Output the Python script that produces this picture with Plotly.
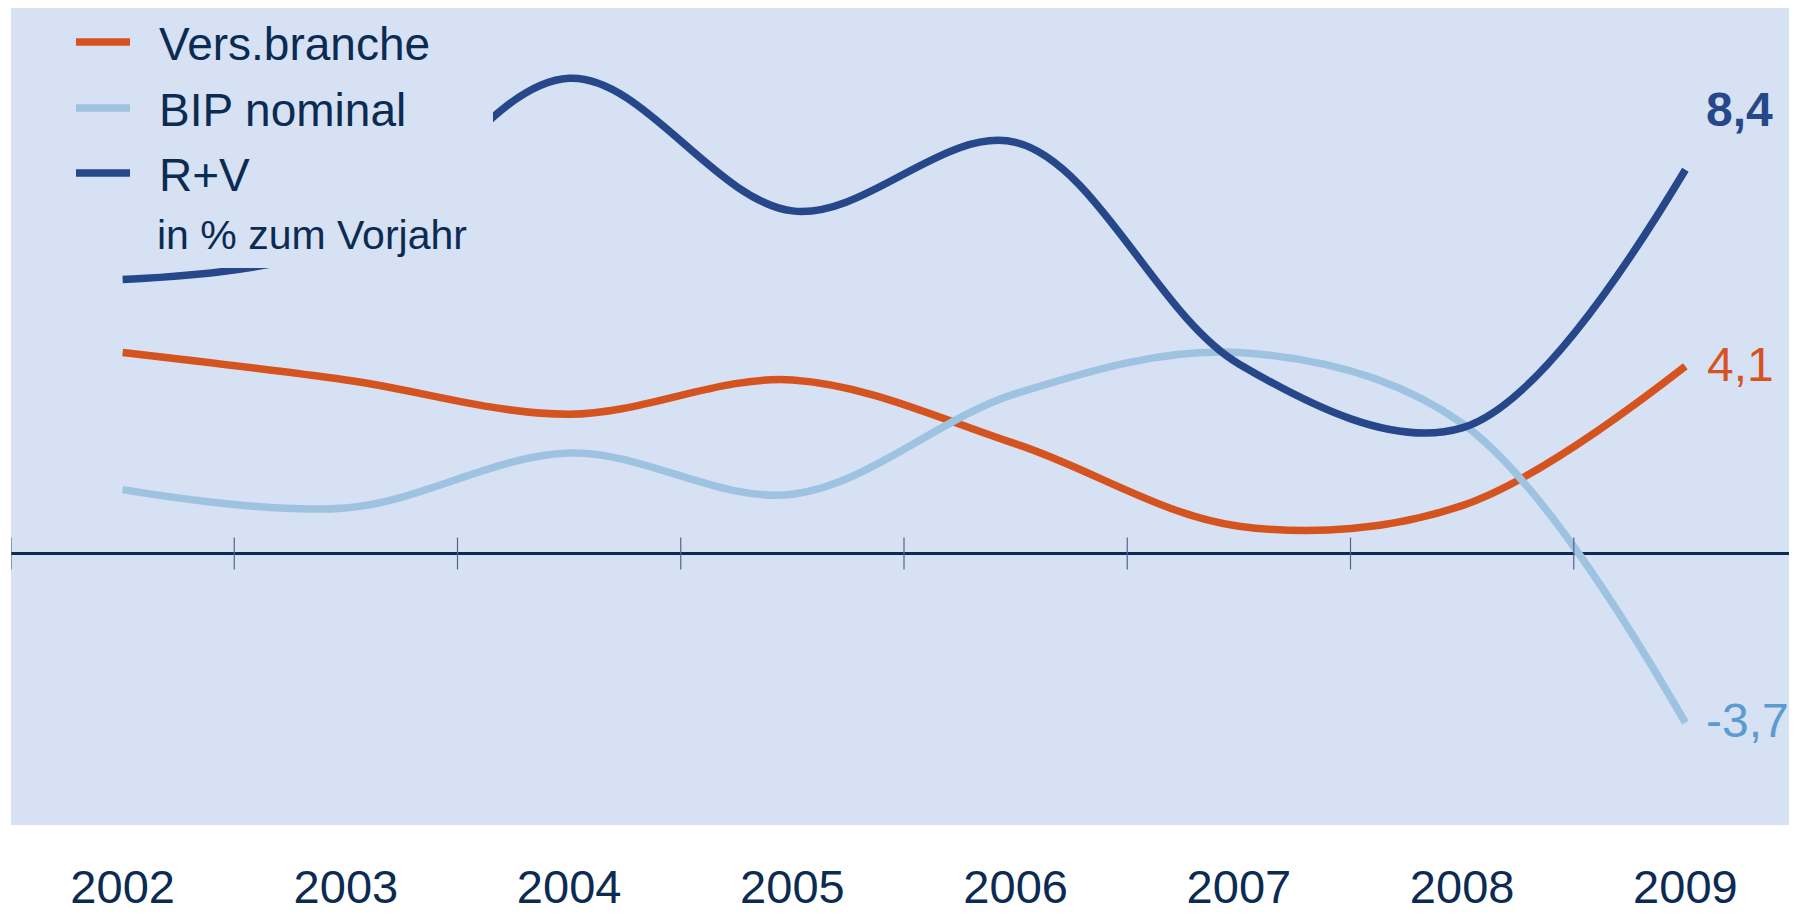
import plotly.graph_objects as go

# ---- data ----
years = ["2002", "2003", "2004", "2005", "2006", "2007", "2008", "2009"]
vers_branche = [4.4, 3.8, 3.05, 3.8, 2.4, 0.6, 1.05, 4.1]
bip_nominal = [1.4, 1.0, 2.2, 1.3, 3.5, 4.4, 2.85, -3.7]
r_plus_v = [6.0, 6.8, 10.4, 7.5, 9.0, 4.15, 2.75, 8.4]
series_names = ["Vers.branche", "BIP nominal", "R+V"]
unit_note = "in % zum Vorjahr"

# ---- style ----
OFF = 8  # page body margin
W, H = 1797 - OFF, 920 - OFF
ML, MR, MT, MB = 3, 0, 0, 95
BG = "#d6e1f3"
NAVY = "#0b2b52"
C_ORANGE = "#d5531f"
C_LIGHT = "#9dc3e0"
C_DARK = "#26478a"
C_LIGHT_TXT = "#5b9bd0"
FONT = "Liberation Sans, Arial, sans-serif"
Y_RANGE = [-5.94, 11.94]

PW = W - ML - MR
PH = H - MT - MB


def px_x(px):
    # px: screen pixel in the 1797x920 window
    return (px - OFF - ML) / PW


def px_y(py):
    return (H - MB - (py - OFF)) / PH


fig = go.Figure()
colors = [C_ORANGE, C_LIGHT, C_DARK]
for name, vals, col in zip(series_names, [vers_branche, bip_nominal, r_plus_v], colors):
    fig.add_trace(go.Scatter(
        x=years, y=vals, name=name, mode="lines",
        line=dict(color=col, width=7.5, shape="spline", smoothing=1.0),
        hoverinfo="x+y+name",
    ))

shapes = []
# tick marks on the zero line at category boundaries
for k in range(len(years)):
    shapes.append(dict(type="line", xref="x", yref="y",
                       x0=k - 0.5, x1=k - 0.5, y0=-0.35, y1=0.35,
                       line=dict(color="#4f6690", width=1.2), layer="above"))

# legend box (covers the lines beneath, like the original)
shapes.append(dict(type="rect", xref="paper", yref="paper",
                   x0=0, x1=px_x(493), y0=px_y(268), y1=1,
                   fillcolor=BG, line=dict(width=0), layer="above"))

annotations = []
leg_y = [42, 108, 173]
for name, col, yy in zip(series_names, colors, leg_y):
    shapes.append(dict(type="line", xref="paper", yref="paper",
                       x0=px_x(76), x1=px_x(130), y0=px_y(yy), y1=px_y(yy),
                       line=dict(color=col, width=7.5), layer="above"))
    annotations.append(dict(xref="paper", yref="paper", x=px_x(157), y=px_y(yy + 2),
                            text=name, showarrow=False, xanchor="left", yanchor="middle",
                            font=dict(family=FONT, size=46, color=NAVY)))
annotations.append(dict(xref="paper", yref="paper", x=px_x(155), y=px_y(235),
                        text=unit_note, showarrow=False, xanchor="left", yanchor="middle",
                        font=dict(family=FONT, size=41, color=NAVY)))


def fmt(v):
    return f"{v:.1f}".replace(".", ",")


last = len(years) - 1
annotations.append(dict(x=last, y=r_plus_v[-1], text="<b>" + fmt(r_plus_v[-1]) + "</b>",
                        showarrow=False, xanchor="left", yanchor="middle",
                        xshift=19, yshift=60,
                        font=dict(family=FONT, size=48, color=C_DARK)))
annotations.append(dict(x=last, y=vers_branche[-1], text=fmt(vers_branche[-1]),
                        showarrow=False, xanchor="left", yanchor="middle",
                        xshift=20, yshift=2,
                        font=dict(family=FONT, size=48, color=C_ORANGE)))
annotations.append(dict(x=last, y=bip_nominal[-1], text=fmt(bip_nominal[-1]),
                        showarrow=False, xanchor="left", yanchor="middle",
                        xshift=19, yshift=2,
                        font=dict(family=FONT, size=48, color=C_LIGHT_TXT)))

fig.update_layout(
    width=W, height=H,
    margin=dict(l=ML, r=MR, t=MT, b=MB, autoexpand=False),
    paper_bgcolor="white", plot_bgcolor=BG,
    showlegend=False,
    shapes=shapes, annotations=annotations,
    font=dict(family=FONT, color=NAVY),
    xaxis=dict(type="category", range=[-0.5, len(years) - 0.5],
               showgrid=False, zeroline=False, showline=False, ticks="",
               tickfont=dict(family=FONT, size=47, color=NAVY),
               ticklabelstandoff=30, automargin=False, fixedrange=True),
    yaxis=dict(range=Y_RANGE, showgrid=False, showticklabels=False, ticks="",
               zeroline=True, zerolinecolor=NAVY, zerolinewidth=2.5,
               showline=False, automargin=False, fixedrange=True),
)

fig.write_html("out.html", config={"displayModeBar": False})
